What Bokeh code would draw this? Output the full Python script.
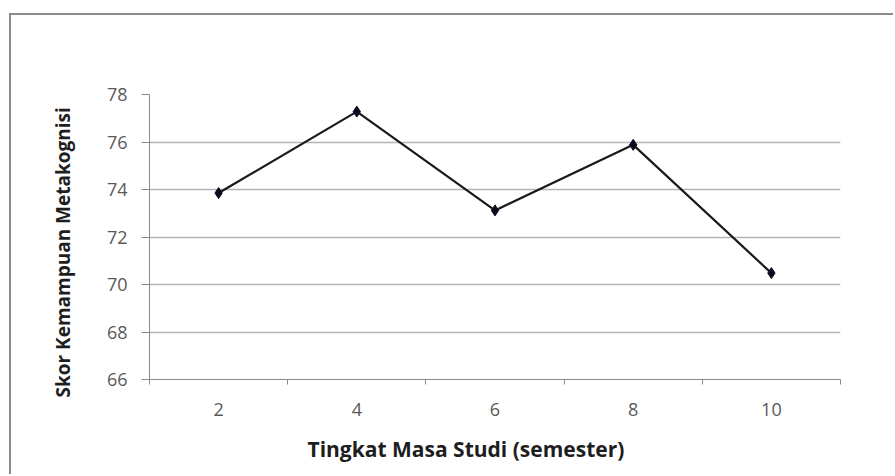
from bokeh.plotting import figure
from bokeh.models import FixedTicker, Title, InlineStyleSheet, Range1d
from bokeh.embed import file_html
from bokeh.resources import INLINE

# Metacognition score by study level (semester)
semesters = [2, 4, 6, 8, 10]
tick_labels = ["2", "4", "6", "8", "10"]
scores = [73.85, 77.28, 73.12, 75.88, 70.48]
y_ticks = [66, 68, 70, 72, 74, 76, 78]

GRID = "#b4b4b4"
AXIS = "#8a8a8a"
TICK_TXT = "#595959"
FONT = "Open Sans"

frame_css = InlineStyleSheet(css=":host { border-top: 2px solid #8c8c8c; border-left: 2px solid #8c8c8c; }")

p = figure(
    width=884, height=461, margin=(13, 0, 0, 9),
    output_backend="svg", toolbar_location=None,
    x_range=Range1d(1, 11), y_range=Range1d(66, 78),
    min_border_left=138, min_border_right=55, min_border_top=79, min_border_bottom=96,
    stylesheets=[frame_css],
)
p.outline_line_color = None
p.background_fill_color = "white"
p.border_fill_color = "white"

# category boundaries carry the small tick marks, labels sit at the centres
boundaries = [s - 1 for s in semesters] + [semesters[-1] + 1]
p.xaxis.ticker = FixedTicker(ticks=semesters, minor_ticks=boundaries)
p.xaxis.major_label_overrides = {s: t for s, t in zip(semesters, tick_labels)}
p.xaxis.major_tick_line_color = None
p.xaxis.major_tick_out = 0
p.xaxis.major_tick_in = 0
p.xaxis.minor_tick_out = 5
p.xaxis.minor_tick_in = 0
p.xaxis.minor_tick_line_color = AXIS
p.xaxis.axis_line_color = AXIS
p.xaxis.major_label_standoff = 18

p.yaxis.ticker = FixedTicker(ticks=y_ticks, minor_ticks=[])
p.yaxis.major_tick_out = 8
p.yaxis.major_tick_in = 0
p.yaxis.major_tick_line_color = AXIS
p.yaxis.axis_line_color = AXIS
p.yaxis.major_label_standoff = 14

for ax in (p.xaxis, p.yaxis):
    ax.major_label_text_font = FONT
    ax.major_label_text_font_size = "18px"
    ax.major_label_text_color = TICK_TXT

p.xgrid.grid_line_color = None
p.ygrid.ticker = FixedTicker(ticks=y_ticks)
p.ygrid.grid_line_color = GRID
p.ygrid.grid_line_width = 1.5

p.add_layout(Title(text="Tingkat Masa Studi (semester)", align="left", offset=158,
                   text_font=FONT, text_font_size="21px", text_font_style="bold",
                   text_color="#1e1e1e", standoff=28), "below")
p.add_layout(Title(text="Skor Kemampuan Metakognisi", align="left", offset=-18,
                   text_font=FONT, text_font_size="19px", text_font_style="bold",
                   text_color="#1e1e1e", standoff=56), "left")

p.line(semesters, scores, line_color="#1a1a1a", line_width=2.2)
p.scatter(semesters, scores, marker="diamond", size=11,
          fill_color="#0a0a1e", line_color="#0a0a1e")

open("out.html", "w").write(file_html(p, INLINE))
